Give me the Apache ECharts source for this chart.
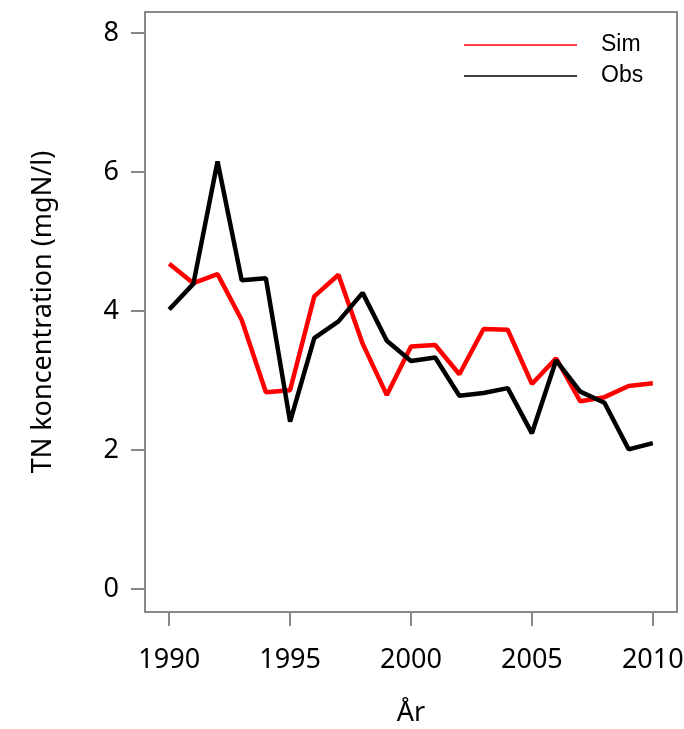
<!DOCTYPE html>
<html>
<head>
<meta charset="utf-8">
<script src="https://cdn.jsdelivr.net/npm/echarts@6/dist/echarts.min.js"></script>
<style>html,body{margin:0;padding:0;background:#fff}#c{width:684px;height:729px}</style>
</head>
<body>
<div id="c"></div>
<script>
const years = [1990,1991,1992,1993,1994,1995,1996,1997,1998,1999,2000,2001,2002,2003,2004,2005,2006,2007,2008,2009,2010];
const sim = [4.68,4.40,4.53,3.87,2.83,2.86,4.21,4.52,3.53,2.79,3.49,3.51,3.09,3.74,3.73,2.95,3.32,2.70,2.76,2.92,2.96];
const obs = [4.02,4.39,6.15,4.44,4.47,2.41,3.61,3.85,4.26,3.57,3.28,3.33,2.78,2.82,2.89,2.24,3.29,2.84,2.68,2.01,2.10];
const xTicks = [1990,1995,2000,2005,2010];
const yTicks = [0,2,4,6,8];
const seriesNames = ['Sim','Obs'];
const xTitle = 'År';
const yTitle = 'TN koncentration (mgN/l)';

const gray = '#888888';
const tickFont = 'Noto Sans';
const chart = echarts.init(document.getElementById('c'), null, {renderer:'canvas'});
chart.setOption({
  animation:false,
  backgroundColor:'#fff',
  grid:{left:145,right:7,top:12,bottom:117,outerBoundsMode:'none',containLabel:false,
        show:true,borderColor:gray,borderWidth:2,backgroundColor:'transparent'},
  legend:{
    data:seriesNames, orient:'vertical', left:464, top:32, padding:0, icon:'rect',
    itemWidth:113, itemHeight:1.5, itemGap:5,
    textStyle:{fontFamily:'Liberation Sans', fontSize:23, color:'#000', padding:[0,0,0,19], lineHeight:26}
  },
  xAxis:{
    type:'value', min:1989, max:2011,
    name:xTitle, nameLocation:'middle', nameGap:88,
    nameTextStyle:{fontFamily:tickFont, fontSize:27, color:'#000'},
    axisLine:{show:false, onZero:false},
    axisTick:{show:true, customValues:xTicks, length:14, lineStyle:{color:gray,width:2}},
    axisLabel:{customValues:xTicks, margin:35, fontFamily:tickFont, fontSize:27, color:'#000',
               formatter:v=>String(v)},
    splitLine:{show:false}
  },
  yAxis:{
    type:'value', min:-0.33, max:8.3,
    name:yTitle, nameLocation:'middle', nameGap:88,
    nameTextStyle:{fontFamily:tickFont, fontSize:27, color:'#000'},
    axisLine:{show:false, onZero:false},
    axisTick:{show:true, customValues:yTicks, length:14, lineStyle:{color:gray,width:2}},
    axisLabel:{customValues:yTicks, margin:26, fontFamily:tickFont, fontSize:27, color:'#000',
               formatter:v=>String(v)},
    splitLine:{show:false}
  },
  series:[
    {name:seriesNames[0], type:'line', showSymbol:false, symbol:'none', color:'#ff0000',
     lineStyle:{width:4.5,color:'#ff0000'}, data:years.map((y,i)=>[y,sim[i]])},
    {name:seriesNames[1], type:'line', showSymbol:false, symbol:'none', color:'#000000',
     lineStyle:{width:4.5,color:'#000000'}, data:years.map((y,i)=>[y,obs[i]])}
  ]
});
</script>
</body>
</html>
